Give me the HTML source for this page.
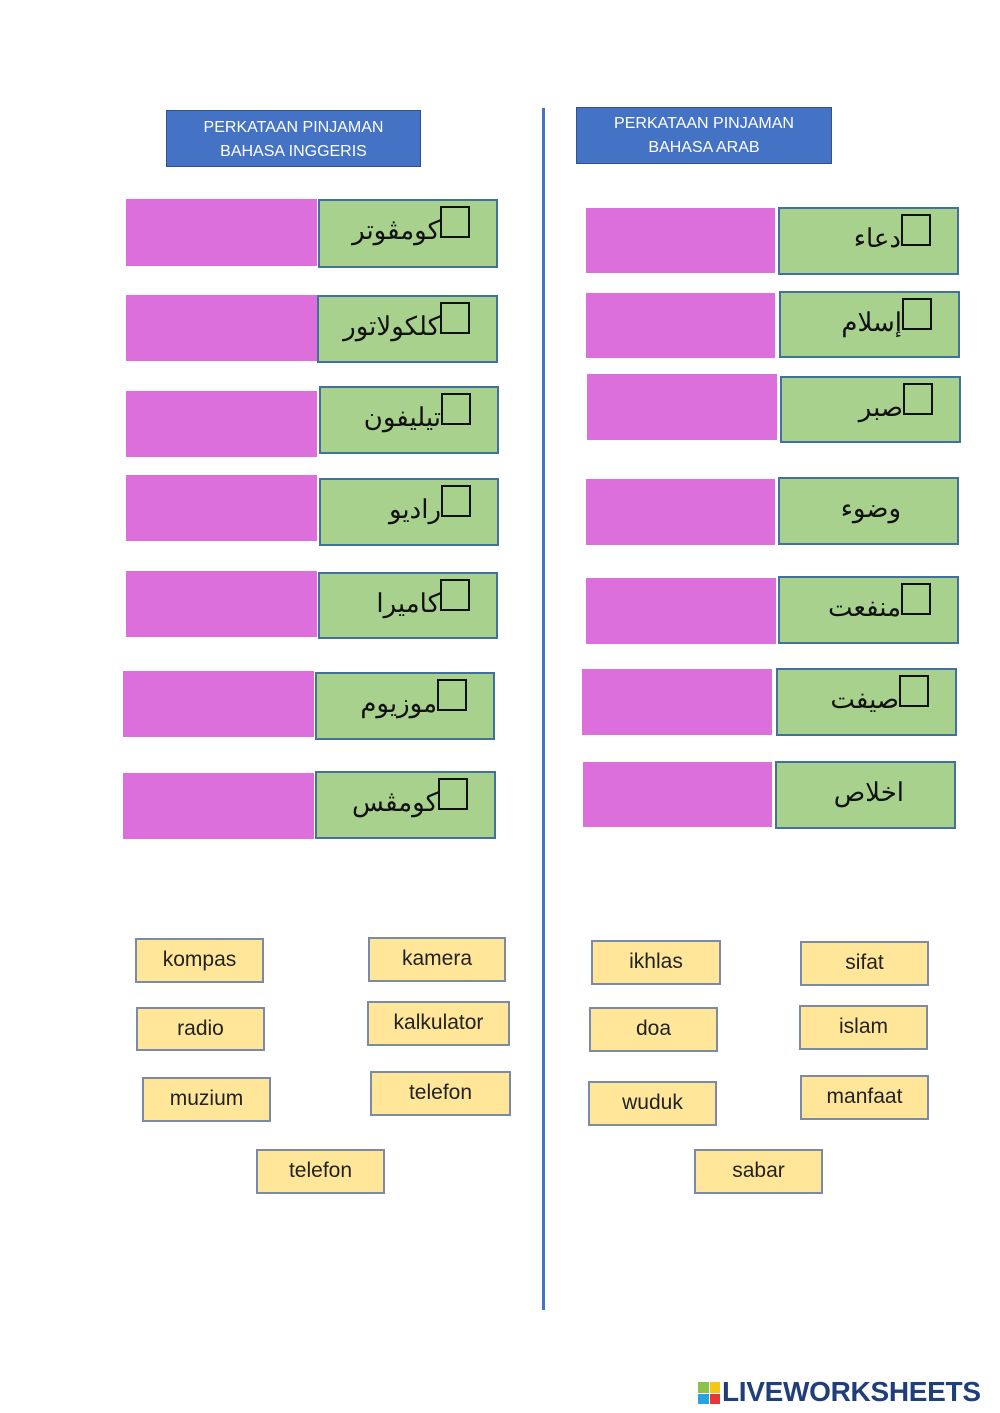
<!DOCTYPE html>
<html><head><meta charset="utf-8"><style>
body{margin:0;width:1000px;height:1413px;background:#fff;position:relative;overflow:hidden;font-family:"Liberation Sans",sans-serif}
.a{position:absolute;box-sizing:border-box}
.h{background:#4472C4;border:1px solid #2f528f;color:#fff;font-size:16px;text-align:center;line-height:24px;padding-top:5px}
.p{background:#DD6FDD}
.g{background:#A9D18E;border:2px solid #41719C}
.g .t{position:absolute;right:26px;top:5px;display:flex;align-items:flex-start;direction:ltr;font-family:"DejaVu Serif","Liberation Serif",serif;font-size:26px;color:#111}
.g .t span.w{margin-top:10px;direction:rtl}
.g .t span.b{width:30px;height:32px;border:2px solid #111;box-sizing:border-box;margin-top:0}
.y{background:#FFE699;border:2px solid #7a8aa8;font-size:21px;text-align:center;color:#222;line-height:40px}
</style></head><body>
<div class="a h" style="left:166px;top:110px;width:255px;height:57px">PERKATAAN PINJAMAN<br>BAHASA INGGERIS</div>
<div class="a h" style="left:576px;top:107px;width:256px;height:57px;padding-top:4px">PERKATAAN PINJAMAN<br>BAHASA ARAB</div>
<div class="a" style="left:542px;top:108px;width:3px;height:1202px;background:#4472C4"></div>

<div class="a p" style="left:126px;top:199px;width:191px;height:67px"></div>
<div class="a g" style="left:318px;top:199px;width:180px;height:69px"><div class="t"><span class="w">كومڤوتر</span><span class="b"></span></div></div>
<div class="a p" style="left:126px;top:295px;width:191px;height:66px"></div>
<div class="a g" style="left:317px;top:295px;width:181px;height:68px"><div class="t"><span class="w">كلكولاتور</span><span class="b"></span></div></div>
<div class="a p" style="left:126px;top:391px;width:191px;height:66px"></div>
<div class="a g" style="left:319px;top:386px;width:180px;height:68px"><div class="t"><span class="w">تيليفون</span><span class="b"></span></div></div>
<div class="a p" style="left:126px;top:475px;width:191px;height:66px"></div>
<div class="a g" style="left:319px;top:478px;width:180px;height:68px"><div class="t"><span class="w">راديو</span><span class="b"></span></div></div>
<div class="a p" style="left:126px;top:571px;width:191px;height:66px"></div>
<div class="a g" style="left:318px;top:572px;width:180px;height:67px"><div class="t"><span class="w">كاميرا</span><span class="b"></span></div></div>
<div class="a p" style="left:123px;top:671px;width:191px;height:66px"></div>
<div class="a g" style="left:315px;top:672px;width:180px;height:68px"><div class="t"><span class="w">موزيوم</span><span class="b"></span></div></div>
<div class="a p" style="left:123px;top:773px;width:191px;height:66px"></div>
<div class="a g" style="left:315px;top:771px;width:181px;height:68px"><div class="t"><span class="w">كومڤس</span><span class="b"></span></div></div>

<div class="a p" style="left:586px;top:208px;width:189px;height:65px"></div>
<div class="a g" style="left:778px;top:207px;width:181px;height:68px"><div class="t"><span class="w">دعاء</span><span class="b"></span></div></div>
<div class="a p" style="left:586px;top:293px;width:189px;height:65px"></div>
<div class="a g" style="left:779px;top:291px;width:181px;height:67px"><div class="t"><span class="w">إسلام</span><span class="b"></span></div></div>
<div class="a p" style="left:587px;top:374px;width:190px;height:66px"></div>
<div class="a g" style="left:780px;top:376px;width:181px;height:67px"><div class="t"><span class="w">صبر</span><span class="b"></span></div></div>
<div class="a p" style="left:586px;top:479px;width:189px;height:66px"></div>
<div class="a g" style="left:778px;top:477px;width:181px;height:68px"><div class="t" style="right:56px"><span class="w">وضوء</span></div></div>
<div class="a p" style="left:586px;top:578px;width:190px;height:66px"></div>
<div class="a g" style="left:778px;top:576px;width:181px;height:68px"><div class="t"><span class="w">منفعت</span><span class="b"></span></div></div>
<div class="a p" style="left:582px;top:669px;width:190px;height:66px"></div>
<div class="a g" style="left:776px;top:668px;width:181px;height:68px"><div class="t"><span class="w">صيفت</span><span class="b"></span></div></div>
<div class="a p" style="left:583px;top:762px;width:189px;height:65px"></div>
<div class="a g" style="left:775px;top:761px;width:181px;height:68px"><div class="t" style="right:50px"><span class="w">اخلاص</span></div></div>

<div class="a y" style="left:135px;top:938px;width:129px;height:45px">kompas</div>
<div class="a y" style="left:368px;top:937px;width:138px;height:45px">kamera</div>
<div class="a y" style="left:136px;top:1007px;width:129px;height:44px">radio</div>
<div class="a y" style="left:367px;top:1001px;width:143px;height:45px">kalkulator</div>
<div class="a y" style="left:142px;top:1077px;width:129px;height:45px">muzium</div>
<div class="a y" style="left:370px;top:1071px;width:141px;height:45px">telefon</div>
<div class="a y" style="left:256px;top:1149px;width:129px;height:45px">telefon</div>
<div class="a y" style="left:591px;top:940px;width:130px;height:45px">ikhlas</div>
<div class="a y" style="left:800px;top:941px;width:129px;height:45px">sifat</div>
<div class="a y" style="left:589px;top:1007px;width:129px;height:45px">doa</div>
<div class="a y" style="left:799px;top:1005px;width:129px;height:45px">islam</div>
<div class="a y" style="left:588px;top:1081px;width:129px;height:45px">wuduk</div>
<div class="a y" style="left:800px;top:1075px;width:129px;height:45px">manfaat</div>
<div class="a y" style="left:694px;top:1149px;width:129px;height:45px">sabar</div>

<div class="a" style="left:698px;top:1382px;width:22px;height:22px;display:grid;grid-template-columns:1fr 1fr;gap:1px">
<div style="background:#8bc34a"></div><div style="background:#f5c518"></div><div style="background:#29a3e0"></div><div style="background:#e53935"></div></div>
<div class="a" style="left:722px;top:1376px;font-size:28px;font-weight:bold;color:#1f3f7a;letter-spacing:-0.3px;font-family:'Liberation Sans Narrow','Liberation Sans',sans-serif">LIVEWORKSHEETS</div>
</body></html>
